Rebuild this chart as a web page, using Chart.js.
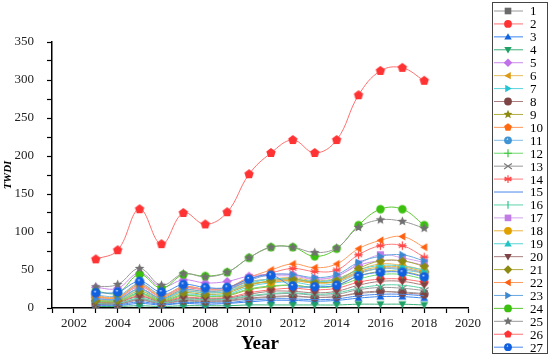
<!DOCTYPE html>
<html>
<head>
<meta charset="utf-8">
<script src="https://cdn.jsdelivr.net/npm/chart.js@4/dist/chart.umd.min.js"></script>
<style>
  body { margin: 0; background: #fff; }
  canvas { display: block; }
</style>
</head>
<body>
<canvas id="chartTWDI" width="550" height="357"></canvas>
<script>
const years = [2003, 2004, 2005, 2006, 2007, 2008, 2009, 2010, 2011, 2012, 2013, 2014, 2015, 2016, 2017, 2018];

const s1 = [5, 5, 10, 6, 9, 8, 9, 12, 14, 15, 14, 15, 19, 21, 21, 19];
const s2 = [8, 8, 16, 9, 14, 13, 14, 20, 24, 26, 24, 26, 34, 38, 38, 34];
const s3 = [3, 3, 6, 4, 6, 5, 6, 8, 10, 10, 9, 10, 13, 15, 15, 13];
const s4 = [2, 2, 3, 2, 3, 3, 3, 4, 4, 4, 4, 4, 5, 5, 5, 4];
const s5 = [27, 26, 46, 28, 37, 33, 35, 42, 44, 44, 38, 42, 56, 62, 62, 56];
const s6 = [16, 15, 32, 17, 28, 25, 27, 35, 38, 40, 36, 39, 50, 58, 56, 50];
const s7 = [9, 9, 20, 10, 18, 17, 18, 28, 33, 34, 30, 33, 45, 52, 50, 46];
const s8 = [5, 5, 11, 6, 10, 9, 10, 13, 15, 16, 14, 15, 20, 22, 20, 18];
const s9 = [8, 8, 18, 9, 16, 15, 16, 24, 28, 30, 27, 30, 42, 48, 48, 42];
const s10 = [12, 11, 25, 13, 22, 20, 22, 30, 35, 36, 33, 35, 46, 52, 52, 46];
const s11 = [17, 16, 32, 18, 27, 25, 26, 34, 38, 38, 35, 37, 47, 52, 52, 47];
const s12 = [9, 9, 19, 10, 17, 15, 17, 25, 29, 30, 27, 29, 38, 44, 44, 38];
const s13 = [6, 6, 12, 7, 11, 10, 11, 15, 18, 19, 17, 18, 24, 27, 26, 23];
const s14 = [14, 13, 28, 15, 26, 24, 26, 38, 46, 52, 48, 50, 70, 82, 82, 67];
const s15 = [4, 4, 8, 5, 7, 7, 7, 10, 12, 12, 11, 12, 16, 18, 18, 16];
const s16 = [6, 6, 13, 7, 12, 11, 12, 16, 19, 20, 18, 20, 26, 30, 30, 26];
const s17 = [13, 13, 28, 15, 28, 24, 26, 40, 42, 42, 38, 42, 58, 70, 66, 60];
const s18 = [14, 14, 30, 15, 24, 22, 24, 32, 34, 36, 33, 35, 48, 54, 54, 48];
const s19 = [11, 11, 24, 12, 22, 20, 22, 32, 38, 38, 35, 38, 50, 56, 55, 50];
const s20 = [7, 7, 15, 8, 13, 12, 13, 18, 22, 22, 20, 22, 30, 35, 35, 30];
const s21 = [10, 10, 22, 11, 20, 18, 20, 30, 36, 38, 34, 36, 52, 62, 62, 55];
const s22 = [15, 14, 30, 16, 28, 25, 27, 40, 50, 58, 53, 58, 78, 89, 94, 80];
const s23 = [12, 12, 25, 13, 24, 22, 24, 36, 44, 44, 40, 44, 60, 68, 70, 62];
const s24 = [22, 20, 44, 26, 44, 42, 47, 66, 80, 80, 68, 78, 109, 130, 130, 109];
const s25 = [28, 31, 52, 30, 45, 41, 47, 66, 80, 80, 73, 79, 106, 116, 114, 105];
const s26 = [64, 76, 130, 84, 125, 110, 126, 176, 204, 221, 204, 221, 280, 312, 316, 299];
const s27 = [20, 21, 35, 21, 31, 27, 27, 38, 43, 29, 28, 30, 42, 47, 47, 41];

const seriesValues = [s1, s2, s3, s4, s5, s6, s7, s8, s9, s10, s11, s12, s13, s14, s15, s16, s17, s18, s19, s20, s21, s22, s23, s24, s25, s26, s27];
const seriesNames = seriesValues.map((_, i) => String(i + 1));

// marker colour, line colour, marker shape
const styles = [
  ["#6a6a6a", "#9a9a9a", "square"],
  ["#ff3333", "#ff7070", "circle"],
  ["#1464e0", "#3c86f0", "up"],
  ["#1fa065", "#3cb07a", "down"],
  ["#c070e8", "#cc88ee", "diamond"],
  ["#dc9a14", "#e8bc5c", "left"],
  ["#20c4d4", "#5cd4e0", "right"],
  ["#7e4444", "#aa7e7e", "circle"],
  ["#8c8a10", "#b0ae40", "star"],
  ["#ff6a10", "#ff9a5c", "pentagon"],
  ["#4094d4", "#80bce8", "sphere"],
  ["#3cc83c", "#6cd86c", "plus"],
  ["#7a7a7a", "#9a9a9a", "cross"],
  ["#ff4848", "#ff7a7a", "asterisk"],
  ["#4a86e8", "#4a86e8", "none"],
  ["#30c490", "#5cd4a8", "vtick"],
  ["#c07ce4", "#d4a4ee", "square"],
  ["#e0a000", "#eab440", "circle"],
  ["#20c4c4", "#5cd4d4", "up"],
  ["#7e4444", "#aa7e7e", "down"],
  ["#8c8a10", "#b0ae40", "diamond"],
  ["#ff6010", "#ff9a5c", "left"],
  ["#3a88d0", "#6aa8e0", "right"],
  ["#3cc010", "#5cc830", "circle"],
  ["#707070", "#9a9a9a", "star"],
  ["#ff3333", "#ff7070", "pentagon"],
  ["#1060e0", "#4a8af0", "sphere"]
];

function polyPath(ctx, x, y, r, n, startDeg, inner) {
  const steps = inner ? n * 2 : n;
  for (let i = 0; i < steps; i++) {
    const a = (startDeg + i * 360 / steps) * Math.PI / 180;
    const rr = inner && i % 2 ? r * inner : r;
    const px = x + rr * Math.cos(a), py = y + rr * Math.sin(a);
    if (i === 0) ctx.moveTo(px, py); else ctx.lineTo(px, py);
  }
  ctx.closePath();
}

function drawMarker(ctx, shape, x, y, r, color) {
  ctx.save();
  ctx.fillStyle = color;
  ctx.strokeStyle = color;
  ctx.lineWidth = 1.2;
  ctx.beginPath();
  switch (shape) {
    case "square": ctx.rect(x - r * 0.85, y - r * 0.85, r * 1.7, r * 1.7); ctx.fill(); break;
    case "circle": ctx.arc(x, y, r, 0, Math.PI * 2); ctx.fill(); break;
    case "up": polyPath(ctx, x, y + r * 0.15, r * 1.1, 3, -90); ctx.fill(); break;
    case "down": polyPath(ctx, x, y - r * 0.15, r * 1.1, 3, 90); ctx.fill(); break;
    case "left": polyPath(ctx, x + r * 0.15, y, r * 1.1, 3, 180); ctx.fill(); break;
    case "right": polyPath(ctx, x - r * 0.15, y, r * 1.1, 3, 0); ctx.fill(); break;
    case "diamond": polyPath(ctx, x, y, r * 1.1, 4, -90); ctx.fill(); break;
    case "pentagon": polyPath(ctx, x, y, r * 1.05, 5, -90); ctx.fill(); break;
    case "star": polyPath(ctx, x, y, r * 1.2, 5, -90, 0.45); ctx.fill(); break;
    case "sphere": {
      const g = ctx.createRadialGradient(x - r * 0.2, y - r * 0.35, 0, x, y, r);
      g.addColorStop(0, "#ffffff");
      g.addColorStop(0.3, color);
      g.addColorStop(1, color);
      ctx.fillStyle = g;
      ctx.arc(x, y, r, 0, Math.PI * 2);
      ctx.fill();
      break;
    }
    case "plus":
      ctx.moveTo(x - r, y); ctx.lineTo(x + r, y);
      ctx.moveTo(x, y - r); ctx.lineTo(x, y + r);
      ctx.stroke(); break;
    case "cross":
      ctx.moveTo(x - r, y - r * 0.7); ctx.lineTo(x + r, y + r * 0.7);
      ctx.moveTo(x - r, y + r * 0.7); ctx.lineTo(x + r, y - r * 0.7);
      ctx.stroke(); break;
    case "asterisk":
      for (const d of [90, 30, 150]) {
        const a = d * Math.PI / 180;
        ctx.moveTo(x - r * Math.cos(a), y - r * Math.sin(a));
        ctx.lineTo(x + r * Math.cos(a), y + r * Math.sin(a));
      }
      ctx.moveTo(x - r, y); ctx.lineTo(x + r, y);
      ctx.stroke(); break;
    case "vtick":
      ctx.moveTo(x, y - r); ctx.lineTo(x, y + r);
      ctx.stroke(); break;
  }
  ctx.restore();
}

function markerCanvas(shape, color, r) {
  const size = Math.ceil(r * 2 + 4);
  const c = document.createElement("canvas");
  c.width = size;
  c.height = size;
  drawMarker(c.getContext("2d"), shape, size / 2, size / 2, r, color);
  return c;
}

const serif = "'Liberation Serif', 'DejaVu Serif', serif";

const datasets = seriesValues.map((vals, i) => {
  const [mc, lc, shape] = styles[i];
  const r = shape === "pentagon" || shape === "sphere" ? 4.7 : 4.2;
  return {
    label: seriesNames[i],
    data: vals.map((v, j) => ({ x: years[j], y: v })),
    borderColor: lc,
    backgroundColor: mc,
    borderWidth: 1,
    tension: 0.4,
    pointStyle: shape === "none" ? false : markerCanvas(shape, mc, r),
    pointRadius: shape === "none" ? 0 : r,
    order: seriesValues.length - i,
    markerShape: shape
  };
});

const boxLegend = {
  id: "boxLegend",
  afterDraw(chart) {
    const ctx = chart.ctx;
    const left = 492, top = 2, right = 547, bottom = 353;
    ctx.save();
    ctx.strokeStyle = "#444";
    ctx.lineWidth = 1;
    ctx.strokeRect(left + 0.5, top + 0.5, right - left, bottom - top);
    ctx.font = "13px " + serif;
    ctx.fillStyle = "#000";
    ctx.textBaseline = "middle";
    chart.data.datasets.forEach((ds, i) => {
      const y = 11 + i * 12.93;
      ctx.strokeStyle = ds.borderColor;
      ctx.lineWidth = 1;
      ctx.beginPath();
      ctx.moveTo(494, y);
      ctx.lineTo(523, y);
      ctx.stroke();
      drawMarker(ctx, ds.markerShape, 508, y, 3.9, ds.backgroundColor);
      ctx.fillStyle = "#000";
      ctx.fillText(ds.label, 530, y + 1);
    });
    ctx.restore();
  }
};

new Chart(document.querySelector("#chartTWDI"), {
  type: "line",
  data: { datasets: datasets },
  plugins: [boxLegend],
  options: {
    responsive: false,
    animation: false,
    layout: { padding: { top: 42, right: 82, left: 0, bottom: 0 } },
    plugins: {
      legend: { display: false },
      tooltip: { enabled: false }
    },
    scales: {
      x: {
        type: "linear",
        min: 2001,
        max: 2020,
        afterFit: (s) => { s.height = 49; },
        border: { display: true, color: "#000", width: 1.5 },
        grid: { drawOnChartArea: false, drawTicks: true, tickLength: 5, color: "#000", tickWidth: 1.2 },
        ticks: {
          stepSize: 1,
          autoSkip: false,
          maxRotation: 0,
          padding: 3,
          color: "#222",
          font: { family: serif, size: 13 },
          callback: (v) => (v % 2 === 0 ? String(v) : "")
        },
        title: {
          display: true,
          text: "Year",
          color: "#000",
          padding: { top: 0, bottom: 2 },
          font: { family: serif, size: 19, weight: "bold" }
        }
      },
      y: {
        min: 0,
        max: 350,
        afterFit: (s) => { s.width = 52; },
        border: { display: true, color: "#000", width: 1.5 },
        grid: { drawOnChartArea: false, drawTicks: true, tickLength: 5, color: "#000", tickWidth: 1.2 },
        ticks: {
          stepSize: 25,
          autoSkip: false,
          padding: 13,
          color: "#222",
          font: { family: serif, size: 13 },
          callback: (v) => (v % 50 === 0 ? String(v) : "")
        },
        title: {
          display: true,
          text: "TWDI",
          color: "#000",
          padding: { top: 2, bottom: 0 },
          font: { family: serif, size: 11, weight: "bold", style: "italic" }
        }
      }
    }
  }
});
</script>
</body>
</html>
